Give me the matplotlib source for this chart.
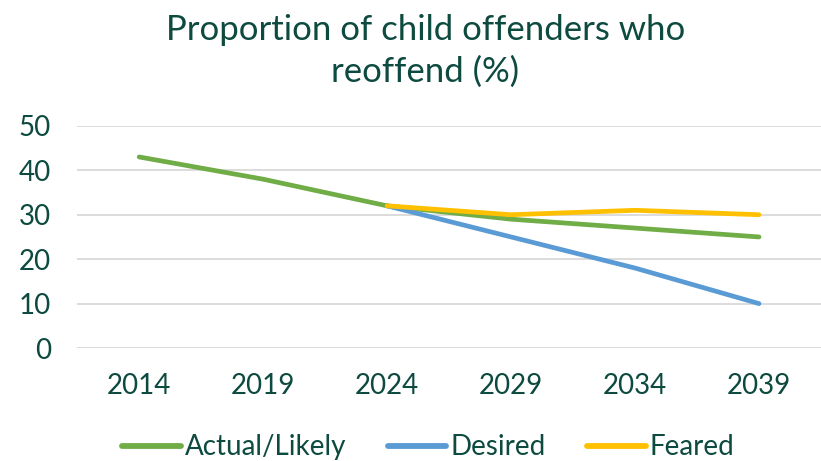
import matplotlib
matplotlib.use('Agg')
import matplotlib.pyplot as plt
import numpy as np

plt.rcParams['font.family'] = ['Lato', 'DejaVu Sans']

# data
years = ['2014', '2019', '2024', '2029', '2034', '2039']
actual_likely = [43, 38, 32, 29, 27, 25]
desired = [np.nan, np.nan, 32, 25, 18, 10]
feared = [np.nan, np.nan, 32, 30, 31, 30]

text_col = '#0D4A3F'
x = np.arange(len(years))

fig = plt.figure(figsize=(8.21, 4.61), dpi=100)
ax = fig.add_axes([0.094, 0.245, 0.906, 0.482])

ax.plot(x, actual_likely, color='#70AD47', lw=3.4, solid_capstyle='round', label='Actual/Likely', zorder=3)
ax.plot(x, desired, color='#5B9BD5', lw=3.4, solid_capstyle='round', label='Desired', zorder=3)
ax.plot(x, feared, color='#FFC000', lw=3.4, solid_capstyle='round', label='Feared', zorder=4)

ax.set_xlim(-0.5, 5.5)
ax.set_ylim(0, 50)
ax.set_yticks(range(0, 51, 10))
ax.set_xticks(x)
ax.set_xticklabels(years)
ax.grid(axis='y', color='#D9D9D9', lw=1.3)
ax.set_axisbelow(True)
for s in ax.spines.values():
    s.set_visible(False)
ax.tick_params(axis='both', length=0, labelsize=20, labelcolor=text_col)
ax.tick_params(axis='x', pad=18)
ax.tick_params(axis='y', pad=19)

fig.text(0.518, 1 - 51 / 461, 'Proportion of child offenders who\nreoffend (%)', ha='center', va='center',
         fontsize=25, color=text_col, linespacing=1.35)

leg = fig.legend(loc='lower center', bbox_to_anchor=(0.522, -0.053), ncol=3, frameon=False,
                 fontsize=20, handlelength=2.1, handletextpad=0.15, columnspacing=1.5)
for t in leg.get_texts():
    t.set_color(text_col)
for h in leg.get_lines():
    h.set_linewidth(4.2)

fig.savefig('out.png', dpi=100)
